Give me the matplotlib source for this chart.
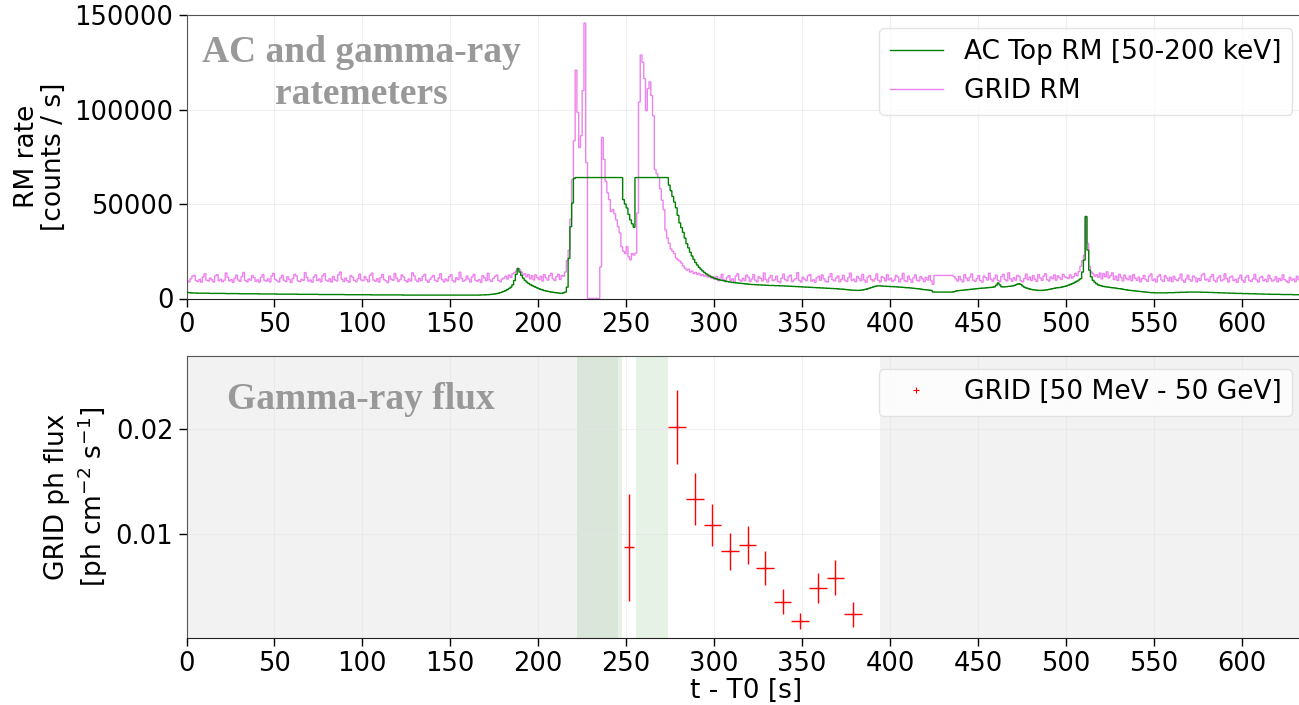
import numpy as np
import matplotlib
matplotlib.use("Agg")
import matplotlib.pyplot as plt

# ---------------- data ----------------
# Ratemeters, 1 s bins starting at t - T0 = 0, values in units of 100 counts / s
ac_top_rm = [
    33, 31, 30, 29, 29, 29, 28, 28, 28, 28, 28, 28, 28, 27, 27, 27, 27, 27, 27, 27,
    27, 27, 26, 26, 26, 26, 26, 26, 26, 26, 25, 25, 25, 25, 25, 25, 25, 25, 25, 25,
    25, 24, 24, 24, 24, 24, 24, 24, 24, 24, 24, 23, 23, 23, 23, 23, 23, 23, 23, 23,
    23, 23, 23, 22, 22, 22, 22, 22, 22, 22, 22, 22, 22, 22, 22, 21, 21, 21, 21, 21,
    21, 21, 21, 21, 21, 21, 21, 21, 21, 21, 20, 20, 20, 20, 20, 20, 20, 20, 20, 20,
    20, 20, 20, 20, 20, 19, 19, 19, 19, 19, 19, 19, 19, 19, 19, 19, 19, 19, 19, 19,
    19, 19, 19, 18, 18, 18, 18, 18, 18, 18, 18, 18, 18, 18, 18, 18, 18, 18, 18, 18,
    18, 18, 18, 18, 18, 18, 18, 18, 18, 18, 18, 18, 18, 18, 18, 18, 18, 18, 18, 18,
    18, 18, 18, 18, 18, 18, 18, 19, 19, 19, 20, 20, 21, 22, 23, 24, 26, 28, 31, 34,
    38, 42, 47, 53, 60, 72, 95, 128, 158, 140, 122, 108, 96, 87, 80, 74, 69, 64, 60, 56,
    52, 48, 45, 42, 40, 38, 36, 34, 33, 31, 30, 29, 28, 28, 30, 34, 60, 212, 380, 505,
    635, 640, 640, 640, 640, 640, 640, 640, 640, 640, 640, 640, 640, 640, 640, 640, 640, 640, 640, 640,
    640, 640, 640, 640, 640, 640, 640, 640, 523, 500, 479, 445, 416, 395, 377, 640, 640, 640, 640, 640,
    640, 640, 640, 640, 640, 640, 640, 640, 640, 640, 640, 640, 640, 640, 600, 570, 540, 510, 480, 440,
    400, 375, 350, 320, 290, 268, 245, 225, 207, 190, 177, 165, 155, 146, 138, 131, 125, 119, 114, 110,
    106, 103, 100, 98, 96, 94, 92, 90, 88, 87, 85, 84, 83, 82, 81, 80, 79, 78, 77, 76,
    75, 74, 74, 73, 73, 72, 72, 71, 71, 70, 70, 69, 69, 69, 68, 68, 68, 67, 67, 67,
    66, 66, 65, 65, 64, 64, 63, 63, 62, 62, 61, 61, 60, 60, 59, 59, 58, 58, 57, 57,
    56, 56, 55, 55, 54, 54, 53, 53, 52, 52, 51, 50, 50, 49, 48, 47, 46, 45, 44, 44,
    43, 43, 43, 44, 45, 47, 49, 52, 55, 58, 61, 64, 66, 67, 67, 66, 65, 65, 64, 64,
    63, 63, 62, 62, 61, 60, 60, 59, 58, 57, 57, 56, 55, 54, 53, 52, 51, 50, 48, 47,
    46, 45, 44, 43, 35, 34, 34, 34, 34, 34, 34, 34, 34, 34, 34, 34, 36, 39, 41, 42,
    43, 44, 45, 46, 47, 48, 49, 50, 51, 52, 53, 54, 55, 55, 56, 57, 58, 59, 60, 62,
    70, 82, 72, 62, 61, 62, 63, 64, 65, 66, 68, 72, 76, 78, 74, 66, 60, 56, 53, 50,
    48, 46, 45, 44, 43, 43, 43, 44, 45, 46, 48, 50, 52, 54, 56, 57, 58, 60, 62, 64,
    67, 70, 74, 78, 82, 87, 92, 98, 105, 140, 203, 434, 256, 150, 115, 96, 86, 78, 72, 69,
    66, 64, 62, 61, 60, 58, 57, 56, 55, 53, 52, 51, 49, 47, 46, 44, 43, 42, 41, 40,
    39, 38, 37, 36, 35, 34, 33, 32, 31, 31, 30, 30, 30, 30, 30, 30, 30, 30, 31, 31,
    31, 31, 32, 32, 32, 33, 33, 33, 33, 34, 34, 34, 34, 34, 34, 34, 34, 33, 33, 33,
    33, 32, 32, 32, 31, 31, 31, 30, 30, 30, 29, 29, 29, 28, 28, 28, 27, 27, 27, 27,
    26, 26, 26, 26, 25, 25, 25, 25, 24, 24, 24, 24, 23, 23, 23, 23, 22, 22, 22, 22,
    22, 22, 21, 21, 21, 21, 21, 21, 21, 20, 20, 20, 20,
]

grid_rm = [
    96, 88, 104, 118, 122, 95, 90, 101, 86, 113, 131, 97, 92, 108, 99, 87, 120, 126, 94, 102,
    89, 97, 135, 112, 93, 100, 85, 107, 124, 98, 91, 116, 138, 95, 88, 103, 97, 121, 110, 90,
    99, 86, 112, 127, 96, 92, 104, 88, 119, 133, 101, 94, 87, 109, 123, 97, 90, 115, 100, 85,
    106, 128, 119, 93, 89, 101, 96, 137, 111, 92, 98, 86, 114, 125, 95, 103, 88, 120, 131, 97,
    91, 104, 87, 117, 99, 93, 126, 140, 102, 90, 108, 95, 86, 121, 113, 96, 89, 105, 129, 98,
    94, 116, 100, 88, 123, 134, 97, 91, 105, 87, 111, 127, 99, 93, 84, 118, 102, 96, 132, 108,
    90, 99, 125, 114, 95, 87, 103, 92, 136, 120, 98, 89, 107, 94, 117, 128, 97, 86, 101, 113,
    122, 96, 90, 108, 131, 99, 88, 104, 93, 115, 126, 95, 87, 110, 100, 139, 106, 91, 97, 119,
    103, 87, 114, 128, 96, 92, 100, 85, 121, 109, 94, 133, 98, 90, 106, 117, 124, 95, 89, 102,
    108, 118, 103, 124, 112, 130, 136, 145, 160, 152, 140, 126, 131, 115, 127, 104, 120, 98, 125, 110,
    100, 118, 93, 126, 109, 97, 121, 133, 104, 95, 116, 128, 101, 122, 118, 140, 200, 256, 420, 630,
    834, 1208, 985, 799, 861, 1100, 1457, 719, 0, 0, 0, 0, 0, 0, 0, 167, 852, 736, 620, 559,
    523, 460, 470, 448, 416, 380, 346, 274, 250, 238, 274, 220, 205, 238, 230, 240, 452, 1039, 1288, 1250,
    1163, 994, 1110, 1146, 1074, 967, 683, 660, 640, 580, 520, 470, 363, 320, 292, 262, 250, 238, 214, 205,
    198, 188, 172, 160, 150, 155, 140, 145, 132, 138, 128, 133, 122, 127, 118, 124, 113, 119, 108, 115,
    101, 117, 94, 108, 128, 99, 89, 112, 121, 96, 104, 86, 119, 131, 98, 92, 107, 95, 124, 113,
    90, 103, 127, 97, 88, 115, 106, 93, 135, 101, 87, 110, 122, 95, 99, 118, 91, 84, 107, 129,
    100, 93, 116, 124, 89, 98, 105, 137, 96, 87, 112, 102, 94, 120, 127, 92, 99, 86, 110, 118,
    96, 125, 104, 91, 87, 114, 132, 99, 93, 108, 119, 88, 101, 123, 97, 90, 111, 134, 95, 102,
    89, 117, 106, 94, 128, 98, 86, 113, 121, 100, 92, 104, 130, 96, 88, 115, 109, 93, 126, 99,
    107, 91, 97, 122, 114, 88, 103, 133, 95, 90, 118, 101, 86, 109, 125, 97, 93, 116, 104, 89,
    112, 98, 121, 94, 75, 122, 122, 122, 122, 122, 122, 122, 122, 122, 122, 122, 116, 104, 92, 117,
    99, 88, 126, 108, 94, 113, 130, 97, 90, 105, 121, 95, 87, 119, 110, 98, 134, 102, 92, 107,
    124, 96, 89, 115, 128, 100, 93, 136, 104, 91, 110, 97, 122, 117, 94, 88, 106, 129, 99, 113,
    95, 121, 102, 90, 127, 109, 96, 118, 131, 100, 92, 114, 105, 125, 97, 120, 110, 101, 128, 115,
    110, 106, 125, 108, 116, 133, 121, 142, 170, 200, 229, 430, 292, 170, 140, 131, 118, 126, 112, 135,
    104, 132, 115, 141, 109, 121, 136, 100, 118, 95, 128, 112, 93, 124, 106, 99, 119, 94, 127, 107,
    96, 113, 88, 105, 122, 100, 91, 118, 130, 95, 103, 87, 116, 126, 98, 90, 121, 108, 93, 112,
    89, 117, 101, 94, 107, 129, 97, 86, 104, 123, 100, 92, 119, 111, 88, 106, 95, 125, 132, 98,
    102, 90, 115, 127, 96, 88, 109, 120, 93, 99, 131, 105, 87, 112, 118, 94, 101, 85, 108, 124,
    97, 86, 113, 121, 95, 90, 104, 128, 99, 87, 110, 117, 94, 101, 89, 123, 105, 92, 98, 115,
    88, 106, 96, 125, 100, 91, 84, 112, 97, 103, 89, 118, 99,
]
rm_unit = 100.0      # counts / s per stored unit
rm_bin = 1.0         # s

# GRID gamma-ray flux (50 MeV - 50 GeV)
flux_t = [251.5, 279, 289, 299, 309, 319, 329, 339, 349, 359, 369, 379]
flux_t_err = [3, 5, 5, 5, 5, 5, 5, 5, 5, 5, 5, 5]
flux = [0.0087, 0.0202, 0.0133, 0.0108, 0.0083, 0.0089, 0.0067, 0.0035,
        0.00165, 0.0048, 0.0058, 0.0023]
flux_err = [0.0051, 0.0035, 0.0025, 0.0020, 0.0018, 0.0018, 0.0016, 0.0012,
            0.0008, 0.0014, 0.0017, 0.0012]

# time intervals shaded in the flux panel
gray_intervals = [(0, 245.6), (394.6, 640)]
green_intervals = [(221.8, 247.9), (255.7, 273.7)]

# ---------------- figure ----------------
plt.rcParams["font.family"] = "DejaVu Sans"
plt.rcParams["font.size"] = 19

W, H = 1299, 705
fig = plt.figure(figsize=(W / 100, H / 100), dpi=100)
left_px, right_px = 186.5, 1305
ax1 = fig.add_axes([left_px / W, 1 - 298.5 / H, (right_px - left_px) / W, 283.5 / H])
ax2 = fig.add_axes([left_px / W, 1 - 638.3 / H, (right_px - left_px) / W, 282.6 / H])

xmax = 636

# --- top panel ---
edges_ac = np.arange(len(ac_top_rm) + 1) * rm_bin
edges_grid = np.arange(len(grid_rm) + 1) * rm_bin
ax1.stairs(np.array(ac_top_rm) * rm_unit, edges_ac, baseline=None, color="green",
           lw=1.0, label="AC Top RM [50-200 keV]", zorder=3)
ax1.stairs(np.array(grid_rm) * rm_unit, edges_grid, baseline=None, color="violet",
           lw=1.0, label="GRID RM", zorder=2)
ax1.set_xlim(0, xmax)
ax1.set_ylim(0, 150000)
ax1.set_yticks([0, 50000, 100000, 150000])
ax1.set_xticks(np.arange(0, 601, 50))
ax1.set_ylabel("RM rate\n[counts / s]", labelpad=5, linespacing=1.05)
ax1.legend(loc="upper right", fontsize=19, framealpha=0.8, edgecolor="#dddddd")
ax1.text(0.156, 0.794, "AC and gamma-ray\nratemeters", transform=ax1.transAxes,
         ha="center", va="center", fontsize=27, fontweight="bold",
         family="Liberation Serif", color="#999999", linespacing=1.25)

# --- bottom panel ---
for a, b in gray_intervals:
    ax2.axvspan(a, b, color="gray", alpha=0.1, lw=0, zorder=0)
for a, b in green_intervals:
    ax2.axvspan(a, b, color="green", alpha=0.1, lw=0, zorder=0)
cont = ax2.errorbar(flux_t, flux, xerr=flux_t_err, yerr=flux_err, fmt="+",
                    ms=5, color="red", ecolor="red", elinewidth=1.0, mew=0.8, zorder=3)
ax2.legend(handles=[cont[0]], labels=["GRID [50 MeV - 50 GeV]"], loc="upper right",
           fontsize=19, framealpha=0.8, edgecolor="#dddddd")
ax2.set_xlim(0, xmax)
ax2.set_ylim(0, 0.027)
ax2.set_yticks([0.01, 0.02])
ax2.set_xticks(np.arange(0, 601, 50))
ax2.set_ylabel("GRID ph flux\n[ph cm$^{-2}$ s$^{-1}$]")
ax2.set_xlabel("t - T0 [s]", labelpad=0)
ax2.text(0.156, 0.845, "Gamma-ray flux", transform=ax2.transAxes,
         ha="center", va="center", fontsize=27, fontweight="bold",
         family="Liberation Serif", color="#999999")

for ax in (ax1, ax2):
    ax.grid(True, color="#e6e6e6", lw=0.8, alpha=0.6, zorder=1)
    ax.set_axisbelow(True)
    ax.tick_params(labelsize=18.5, length=6, width=1.0, direction="out")
    for s in ax.spines.values():
        s.set_color("#555555")
    ax.spines["bottom"].set_color("#222222")

fig.savefig("out.png", dpi=100)
